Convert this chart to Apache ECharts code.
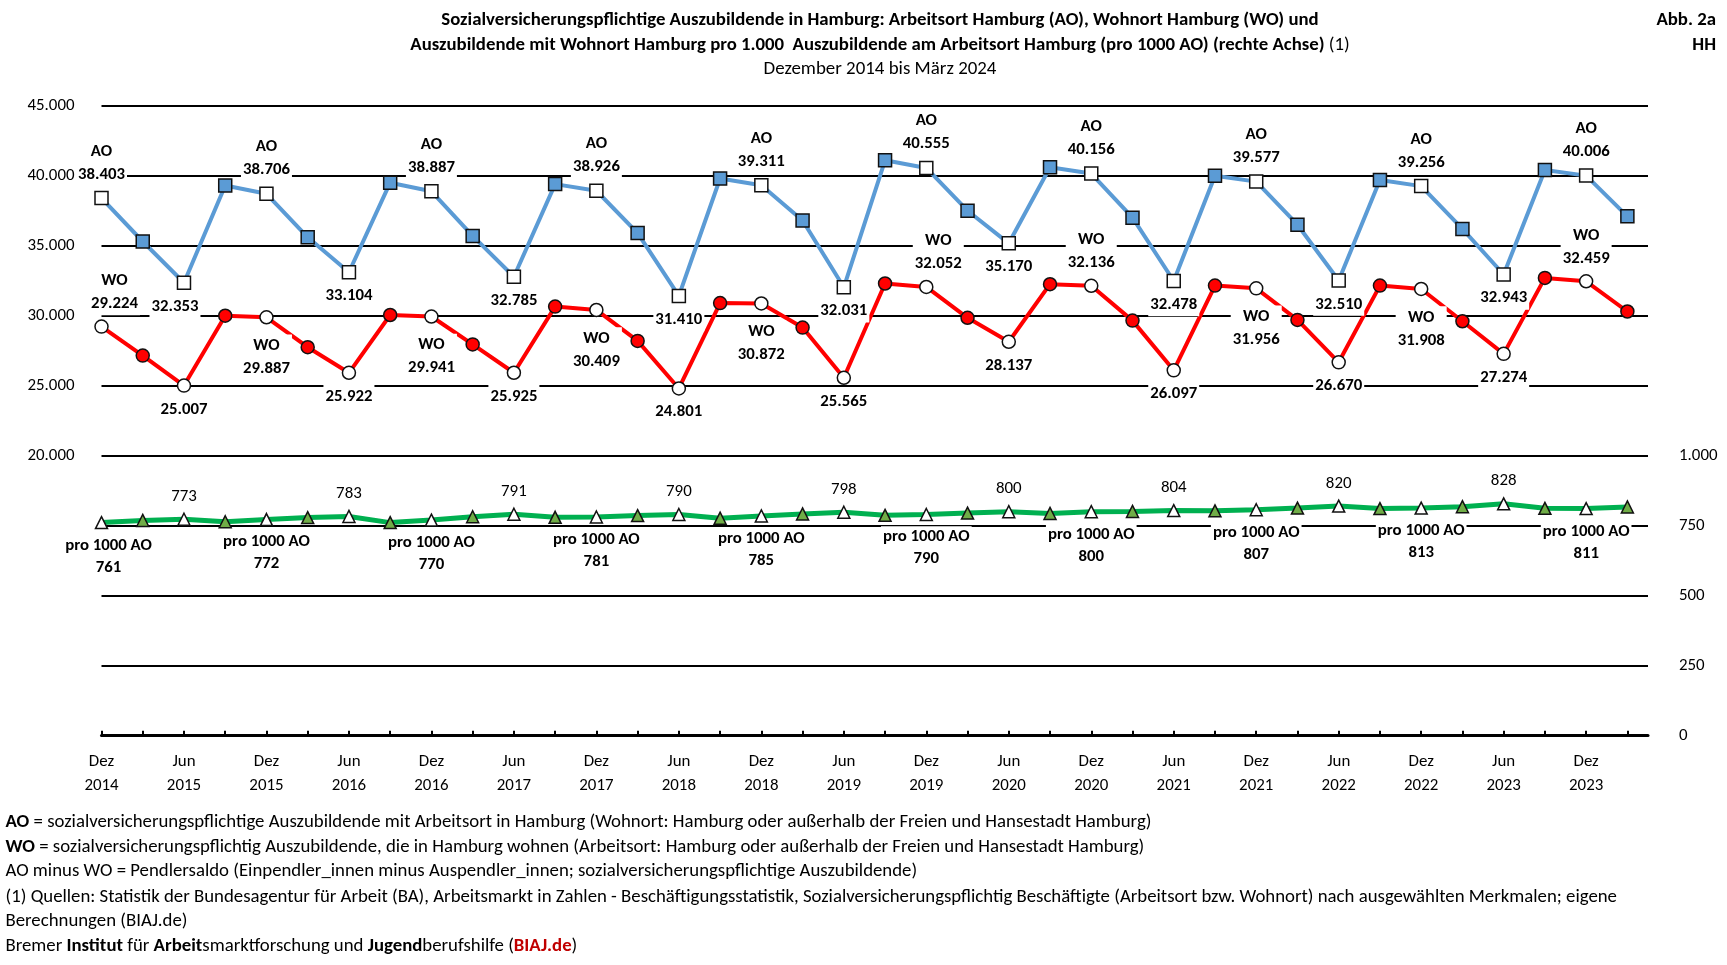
<!DOCTYPE html>
<html>
<head>
<meta charset="utf-8">
<script src="https://cdn.jsdelivr.net/npm/echarts@6/dist/echarts.min.js"></script>
<style>
html,body{margin:0;padding:0;background:#fff;}
#chart{width:1727px;height:965px;}
</style>
</head>
<body>
<div id="chart"></div>
<script>
// ---------------- DATA ----------------
const categories = [
  'Dez 2014','Mär 2015','Jun 2015','Sep 2015',
  'Dez 2015','Mär 2016','Jun 2016','Sep 2016',
  'Dez 2016','Mär 2017','Jun 2017','Sep 2017',
  'Dez 2017','Mär 2018','Jun 2018','Sep 2018',
  'Dez 2018','Mär 2019','Jun 2019','Sep 2019',
  'Dez 2019','Mär 2020','Jun 2020','Sep 2020',
  'Dez 2020','Mär 2021','Jun 2021','Sep 2021',
  'Dez 2021','Mär 2022','Jun 2022','Sep 2022',
  'Dez 2022','Mär 2023','Jun 2023','Sep 2023',
  'Dez 2023','Mär 2024'
];
// Auszubildende am Arbeitsort Hamburg (AO)
const aoValues = [
  38403, 35300, 32353, 39300,
  38706, 35600, 33104, 39500,
  38887, 35700, 32785, 39400,
  38926, 35900, 31410, 39800,
  39311, 36800, 32031, 41100,
  40555, 37500, 35170, 40600,
  40156, 37000, 32478, 40000,
  39577, 36500, 32510, 39700,
  39256, 36200, 32943, 40400,
  40006, 37100
];
// Auszubildende mit Wohnort Hamburg (WO)
const woValues = [
  29224, 27150, 25007, 30000,
  29887, 27750, 25922, 30050,
  29941, 27950, 25925, 30650,
  30409, 28200, 24801, 30900,
  30872, 29150, 25565, 32300,
  32052, 29850, 28137, 32250,
  32136, 29650, 26097, 32150,
  31956, 29700, 26670, 32150,
  31908, 29600, 27274, 32700,
  32459, 30300
];
// WO pro 1000 AO (rechte Achse)
const pro1000Values = [
  761, 769, 773, 764,
  772, 779, 783, 761,
  770, 782, 791, 780,
  781, 786, 790, 777,
  785, 792, 798, 787,
  790, 795, 800, 794,
  800, 801, 804, 803,
  807, 813, 820, 811,
  813, 818, 828, 812,
  811, 817
];
const leftAxisTicks = [0, 5000, 10000, 15000, 20000, 25000, 30000, 35000, 40000, 45000];
const rightAxisTicks = [0, 250, 500, 750, 1000, 1250, 1500, 1750, 2000, 2250];
const leftLabelMin = 20000;
const rightLabelMax = 1000;

const titleLine1 = 'Sozialversicherungspflichtige Auszubildende in Hamburg: Arbeitsort Hamburg (AO), Wohnort Hamburg (WO) und';
const titleLine2 = 'Auszubildende mit Wohnort Hamburg pro 1.000  Auszubildende am Arbeitsort Hamburg (pro 1000 AO) (rechte Achse)';
const titleNote = '(1)';
const subtitle = 'Dezember 2014 bis März 2024';
const cornerLines = ['Abb. 2a', 'HH'];
const footLines = [
  '{b|AO} = sozialversicherungspflichtige Auszubildende mit Arbeitsort in Hamburg (Wohnort: Hamburg oder außerhalb der Freien und Hansestadt Hamburg)',
  '{b|WO} = sozialversicherungspflichtig Auszubildende, die in Hamburg wohnen (Arbeitsort: Hamburg oder außerhalb der Freien und Hansestadt Hamburg)',
  'AO minus WO = Pendlersaldo (Einpendler_innen minus Auspendler_innen; sozialversicherungspflichtige Auszubildende)',
  '(1) Quellen: Statistik der Bundesagentur für Arbeit (BA), Arbeitsmarkt in Zahlen - Beschäftigungsstatistik, Sozialversicherungspflichtig Beschäftigte (Arbeitsort bzw. Wohnort) nach ausgewählten Merkmalen; eigene',
  'Berechnungen (BIAJ.de)',
  'Bremer {b|Institut} für {b|Arbeit}smarktforschung und {b|Jugend}berufshilfe ({r|BIAJ.de})'
];

// ---------------- FONT FITTING ----------------
const cv = document.createElement('canvas').getContext('2d');
const sample = 'abcdefghijklmnopqrstuvwxyzABCDEFGH0123456789';
function hasFont(f) {
  cv.font = '72px monospace';
  const a = cv.measureText(sample).width;
  cv.font = '72px "' + f + '", monospace';
  return cv.measureText(sample).width !== a;
}
const FONT = ['Carlito', 'Lato', 'Open Sans'].find(hasFont) || 'sans-serif';
function textW(t, size, weight) {
  cv.font = weight + ' ' + size + 'px "' + FONT + '"';
  return cv.measureText(t).width;
}
function fit(t, weight, target) {
  return Math.round(100 * target / textW(t, 100, weight) * 10) / 10;
}
const titleSize = fit(titleLine1, 'bold', 879);
const subSize = fit(subtitle, 'normal', 233);
const footSize = fit(footLines[3], 'normal', 1617);
const labelSize = fit('38.706', 'bold', 47);
const axisSize = fit('45.000', 'normal', 47);

const fmt = v => String(v).replace(/\B(?=(\d{3})+(?!\d))/g, '.');
const isDec = i => categories[i].startsWith('Dez');
const isJun = i => categories[i].startsWith('Jun');
const tickIdx = categories.map((c, i) => i);
const labelIdx = tickIdx.filter(i => isDec(i) || isJun(i));

// ---------------- SERIES ----------------
const baseLabel = {
  show: true, color: '#000', fontFamily: FONT, fontWeight: 'bold',
  fontSize: labelSize, lineHeight: 23, backgroundColor: '#fff', padding: [0, 2]
};
const woAbove = new Set([0, 20, 24, 36]);
// small horizontal nudges of individual labels, as placed in the original
const labelNudge = {
  ao: { 2: -9 },
  wo: { 0: 13, 20: 12 },
  pro: { 0: 7 }
};

function buildData(values, fill, nudge, labelFn) {
  return values.map((v, i) => {
    const marked = isDec(i) || isJun(i);
    let label = { show: false };
    if (marked) {
      label = labelFn(i, v);
      if (nudge[i]) label.offset = [nudge[i], 0];
    }
    return {
      value: [i, v],
      itemStyle: { color: marked ? '#ffffff' : fill, borderColor: '#111', borderWidth: 1.5 },
      label: label
    };
  });
}

const aoData = buildData(aoValues, '#5B9BD5', labelNudge.ao, (i, v) => isDec(i)
  ? Object.assign({}, baseLabel, { position: 'top', distance: 5, formatter: 'AO\n' + fmt(v) })
  : Object.assign({}, baseLabel, { position: 'bottom', distance: 5, formatter: fmt(v) }));

const woData = buildData(woValues, '#FF0000', labelNudge.wo, (i, v) => {
  if (isDec(i)) {
    return woAbove.has(i)
      ? Object.assign({}, baseLabel, { position: 'top', distance: 4, formatter: 'WO\n' + fmt(v) })
      : Object.assign({}, baseLabel, { position: 'bottom', distance: 10, formatter: 'WO\n' + fmt(v) });
  }
  return Object.assign({}, baseLabel, { position: 'bottom', distance: 5, formatter: fmt(v) });
});

const proData = buildData(pro1000Values, '#70AD47', labelNudge.pro, (i, v) => isDec(i)
  ? Object.assign({}, baseLabel, { position: 'bottom', distance: 5, lineHeight: 22, formatter: 'pro 1000 AO\n' + v })
  : Object.assign({}, baseLabel, { position: 'top', distance: 5, lineHeight: 22, fontWeight: 'normal', fontSize: axisSize, formatter: String(v) }));

// ---------------- TEXT BLOCKS ----------------
function txt(text, left, centerY, align, size, weight, lh, rich) {
  const ts = { fontFamily: FONT, fontSize: size, fontWeight: weight, color: '#000', lineHeight: lh };
  if (rich) ts.rich = rich;
  return { text: text, left: left, top: centerY - lh / 2, textAlign: align, textVerticalAlign: 'top', padding: 0, textStyle: ts };
}
const richFoot = {
  b: { fontFamily: FONT, fontSize: footSize, fontWeight: 'bold', color: '#000', lineHeight: 22 },
  r: { fontFamily: FONT, fontSize: footSize, fontWeight: 'bold', color: '#C00000', lineHeight: 22 }
};
const richTitle = {
  b: { fontFamily: FONT, fontSize: titleSize, fontWeight: 'bold', color: '#000', lineHeight: 22 },
  n: { fontFamily: FONT, fontSize: titleSize, fontWeight: 'normal', color: '#000', lineHeight: 22 }
};
const footY = [822.5, 847.5, 871.5, 897, 921.5, 946.5];
const titles = [
  txt(titleLine1, 880, 20.5, 'center', titleSize, 'bold', 22),
  txt('{b|' + titleLine2 + '} {n|' + titleNote + '}', 880, 45, 'center', titleSize, 'bold', 22, richTitle),
  txt(subtitle, 880, 69, 'center', subSize, 'normal', 22),
  txt(cornerLines[0], 1716, 20.5, 'right', titleSize, 'bold', 22),
  txt(cornerLines[1], 1716, 45, 'right', titleSize, 'bold', 22)
].concat(footLines.map((t, k) => txt(t, 5.5, footY[k], 'left', footSize, 'normal', 22, richFoot)));

// ---------------- CHART ----------------
const chart = echarts.init(document.getElementById('chart'), null, { renderer: 'canvas' });
chart.setOption({
  animation: false,
  backgroundColor: '#fff',
  textStyle: { fontFamily: FONT },
  title: titles,
  grid: { left: 101.5, right: 79, top: 105.7, bottom: 229.3, containLabel: false, outerBoundsMode: 'none' },
  xAxis: {
    type: 'value', min: 0, max: 37.5, interval: 1,
    axisLine: { show: true, lineStyle: { color: '#000', width: 3 } },
    axisTick: { show: true, inside: true, length: 5, customValues: tickIdx, lineStyle: { color: '#000', width: 2 } },
    axisLabel: {
      show: true, customValues: labelIdx, margin: 14, lineHeight: 24,
      fontFamily: FONT, fontSize: axisSize, color: '#000',
      formatter: v => (categories[Math.round(v)] || '').replace(' ', '\n')
    },
    splitLine: { show: false }
  },
  yAxis: [
    {
      type: 'value', min: leftAxisTicks[0], max: leftAxisTicks[leftAxisTicks.length - 1],
      interval: leftAxisTicks[1] - leftAxisTicks[0],
      axisLine: { show: false }, axisTick: { show: false },
      axisLabel: { margin: 27, fontFamily: FONT, fontSize: axisSize, color: '#000',
        formatter: v => v >= leftLabelMin ? fmt(v) : '' },
      splitLine: { show: true, lineStyle: { color: '#000', width: 2 } }
    },
    {
      type: 'value', min: rightAxisTicks[0], max: rightAxisTicks[rightAxisTicks.length - 1],
      interval: rightAxisTicks[1] - rightAxisTicks[0],
      axisLine: { show: false }, axisTick: { show: false },
      axisLabel: { margin: 31, fontFamily: FONT, fontSize: axisSize, color: '#000',
        formatter: v => v <= rightLabelMax ? fmt(v) : '' },
      splitLine: { show: false }
    }
  ],
  series: [
    {
      name: 'AO', type: 'line', data: aoData, yAxisIndex: 0,
      symbol: 'rect', symbolSize: 13, showAllSymbol: true, clip: false,
      lineStyle: { color: '#5B9BD5', width: 4 },
      itemStyle: { color: '#5B9BD5' },
      label: { show: false },
      emphasis: { disabled: true }, z: 3
    },
    {
      name: 'WO', type: 'line', data: woData, yAxisIndex: 0,
      symbol: 'circle', symbolSize: 13, showAllSymbol: true, clip: false,
      lineStyle: { color: '#FF0000', width: 4 },
      itemStyle: { color: '#FF0000' },
      label: { show: false },
      emphasis: { disabled: true }, z: 3
    },
    {
      name: 'pro 1000 AO', type: 'line', data: proData, yAxisIndex: 1,
      symbol: 'triangle', symbolSize: 12, showAllSymbol: true, clip: false,
      lineStyle: { color: '#00B050', width: 5 },
      itemStyle: { color: '#70AD47' },
      label: { show: false },
      emphasis: { disabled: true }, z: 3
    }
  ]
});
</script>
</body>
</html>
